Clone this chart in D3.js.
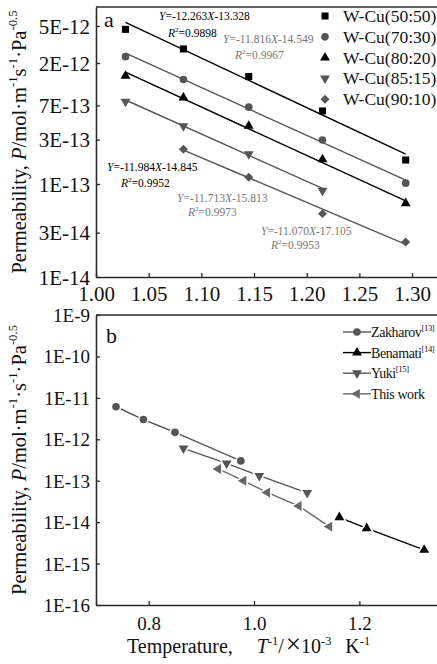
<!DOCTYPE html>
<html><head><meta charset="utf-8">
<script src="https://cdn.jsdelivr.net/npm/d3@7"></script>
<style>
html,body{margin:0;padding:0;background:#fff;}
svg{display:block;font-family:"Liberation Serif","Times New Roman",serif;}
</style></head>
<body><svg id="c" width="437" height="664"></svg>
<script>
// ---------- Panel a data ----------
const aSeries = ["W-Cu(50:50)","W-Cu(70:30)","W-Cu(80:20)","W-Cu(85:15)","W-Cu(90:10)"];
const aX5050 = [1.028, 1.083, 1.145, 1.215, 1.294];
const aP5050 = [4.6e-12, 2.83e-12, 1.43e-12, 6.1e-13, 1.81e-13];
const aX7030 = [1.028, 1.083, 1.145, 1.215, 1.294];
const aP7030 = [2.34e-12, 1.33e-12, 6.7e-13, 2.97e-13, 1.02e-13];
const aX8020 = [1.028, 1.083, 1.145, 1.215, 1.294];
const aP8020 = [1.45e-12, 8.5e-13, 4.2e-13, 1.84e-13, 6.2e-14];
const aX8515 = [1.028, 1.083, 1.145, 1.215];
const aP8515 = [7.7e-13, 4.2e-13, 2.1e-13, 8.5e-14];
const aX9010 = [1.083, 1.145, 1.215, 1.294];
const aP9010 = [2.36e-13, 1.18e-13, 4.8e-14, 2.38e-14];
const fitSlope = [-12.263, -11.816, -11.984, -11.713, -11.070];
const fitIntercept = [-13.328, -14.549, -14.845, -15.813, -17.105];
const fitR2 = ["0.9898", "0.9967", "0.9952", "0.9973", "0.9953"];
const aXTicks = [1.00, 1.05, 1.10, 1.15, 1.20, 1.25, 1.30];
const aYTicks = [5e-12, 2e-12, 7e-13, 3e-13, 1e-13, 3e-14, 1e-14];
const aYTickLabels = ["5E-12","2E-12","7E-13","3E-13","1E-13","3E-14","1E-14"];

// ---------- Panel b data ----------
const bSeries = ["Zakharov","Benamati","Yuki","This work"];
const bRefs = ["[13]","[14]","[15]",""];
const zakX = [0.738, 0.790, 0.850, 0.975];
const zakP = [6.1e-12, 3.0e-12, 1.47e-12, 3.0e-13];
const benX = [1.162, 1.214, 1.323];
const benP = [1.31e-14, 7.1e-15, 2.13e-15];
const yukiX = [0.866, 0.948, 1.010, 1.101];
const yukiP = [6.05e-13, 2.63e-13, 1.32e-13, 5.1e-14];
const thisX = [0.932, 0.980, 1.025, 1.085, 1.143];
const thisP = [1.92e-13, 1.0e-13, 5.2e-14, 2.45e-14, 7.8e-15];
const bXTicks = [0.8, 1.0, 1.2];
const bYTicks = [1e-9,1e-10,1e-11,1e-12,1e-13,1e-14,1e-15,1e-16];
const bYTickLabels = ["1E-9","1E-10","1E-11","1E-12","1E-13","1E-14","1E-15","1E-16"];

const svg = d3.select("#c");
const AX = "#2a2a2a";
const BLACK = "#000", GRAY = "#555", LGRAY = "#666";

function richText(g, x, y, parts, opts) {
  const t = g.append("text").attr("x", x).attr("y", y)
    .attr("font-size", opts.size).attr("fill", opts.fill || "#000")
    .attr("text-anchor", opts.anchor || "start");
  if (opts.rotate) t.attr("transform", `rotate(${opts.rotate},${x},${y})`);
  if (opts.spacing) t.attr("letter-spacing", opts.spacing);
  let shift = 0;
  parts.forEach(p => {
    const ts = t.append("tspan").text(p.t);
    const target = p.sup ? -opts.size * 0.42 : 0;
    if (target !== shift) { ts.attr("dy", target - shift); shift = target; }
    if (p.sup) ts.attr("font-size", opts.size * 0.62);
    if (p.size) ts.attr("font-size", p.size);
    if (p.dx) ts.attr("dx", p.dx);
    if (p.it) ts.attr("font-style", "italic");
  });
  return t;
}

function symPath(type, size) { return d3.symbol().type(type).size(size)(); }
const shapes = {
  square: {type: d3.symbolSquare, rot: 0, size: 50},
  circle: {type: d3.symbolCircle, rot: 0, size: 46},
  up: {type: d3.symbolTriangle, rot: 0, size: 42},
  down: {type: d3.symbolTriangle, rot: 180, size: 42},
  left: {type: d3.symbolTriangle, rot: -90, size: 42},
  diamond: {type: d3.symbolSquare, rot: 45, size: 40}
};
function marker(g, cx, cy, shape, color, gap) {
  const s = shapes[shape];
  const p = g.append("path").attr("d", symPath(s.type, s.size))
    .attr("transform", `translate(${cx},${cy}) rotate(${s.rot})`)
    .attr("fill", color);
  if (gap) p.attr("stroke", "#fff").attr("stroke-width", 3).style("paint-order", "stroke");
  return p;
}

function drawAxes(g, x, y, xTicks, xFmt, yTicks, yLabels, tickSize, xLabY) {
  const [x0, x1] = x.range();
  const [y0, y1] = y.range();
  const xa = d3.axisBottom(x).tickValues(xTicks).tickFormat(xFmt).tickSizeInner(-4).tickSizeOuter(0).tickPadding(8);
  const gx = g.append("g").attr("transform", `translate(0,${y0})`).call(xa);
  gx.select(".domain").attr("stroke", AX).attr("stroke-width", 1.6);
  gx.selectAll(".tick line").attr("stroke", AX).attr("stroke-width", 1.3);
  gx.selectAll(".tick text").attr("font-family", "Liberation Serif").attr("font-size", tickSize)
    .attr("fill", "#111").attr("y", null).attr("dy", null).attr("dominant-baseline", null)
    .attr("transform", null).attr("y", xLabY - y0);
  const ya = d3.axisLeft(y).tickValues(yTicks).tickFormat((d, i) => yLabels[i]).tickSizeInner(-4).tickSizeOuter(0).tickPadding(6);
  const gy = g.append("g").attr("transform", `translate(${x0},0)`).call(ya);
  gy.select(".domain").attr("stroke", AX).attr("stroke-width", 1.6);
  gy.selectAll(".tick line").attr("stroke", AX).attr("stroke-width", 1.3);
  gy.selectAll(".tick text").attr("font-family", "Liberation Serif").attr("font-size", tickSize)
    .attr("fill", "#111").attr("dy", "0.34em");
  g.append("line").attr("x1", x0).attr("x2", x1).attr("y1", y1).attr("y2", y1)
    .attr("stroke", AX).attr("stroke-width", 1.6);
}

// ================= Panel a =================
const gA = svg.append("g");
const xA = d3.scaleLinear().domain([1.0, 1.3237]).range([96, 437]);
const yA = d3.scaleLog().domain([1e-14, 8e-12]).range([277, 7]);
drawAxes(gA, xA, yA, aXTicks, d3.format(".2f"), aYTicks, aYTickLabels, 21, 301);

const aData = [
  {name: aSeries[0], xs: aX5050, ps: aP5050, shape: "square", color: BLACK, eqColor: BLACK},
  {name: aSeries[1], xs: aX7030, ps: aP7030, shape: "circle", color: GRAY, eqColor: "#777"},
  {name: aSeries[2], xs: aX8020, ps: aP8020, shape: "up", color: BLACK, eqColor: BLACK},
  {name: aSeries[3], xs: aX8515, ps: aP8515, shape: "down", color: GRAY, eqColor: "#777"},
  {name: aSeries[4], xs: aX9010, ps: aP9010, shape: "diamond", color: GRAY, eqColor: "#777"}
];
aData.forEach((s, i) => {
  const xs = [s.xs[0], s.xs[s.xs.length - 1]];
  const fit = xs.map(v => [v, Math.exp(fitSlope[i] * v + fitIntercept[i])]);
  gA.append("path").attr("d", d3.line().x(d => xA(d[0])).y(d => yA(d[1]))(fit))
    .attr("fill", "none").attr("stroke", s.color).attr("stroke-width", 1.4);
  s.xs.forEach((v, j) => marker(gA, xA(v), yA(s.ps[j]), s.shape, s.color, false));
});
// equations
const eqPos = [[159, 20, 168, 37], [223, 43, 235, 59], [107, 171, 121, 187], [177, 202, 188, 216], [261, 235, 271, 249]];
aData.forEach((s, i) => {
  const [ex, ey, rx, ry] = eqPos[i];
  const ic = fitIntercept[i] < 0 ? "" : "+";
  richText(gA, ex, ey, [
    {t: "Y", it: true}, {t: "=" + fitSlope[i].toFixed(3)}, {t: "X", it: true}, {t: ic + fitIntercept[i].toFixed(3)}
  ], {size: 11.5, fill: s.eqColor});
  richText(gA, rx, ry, [
    {t: "R", it: true}, {t: "2", sup: true}, {t: "=" + fitR2[i]}
  ], {size: 11.5, fill: s.eqColor});
});
// legend a
aData.forEach((s, i) => {
  const cy = 16 + i * 20.8;
  marker(gA, 325, cy, s.shape, s.color, false);
  gA.append("text").attr("x", 343).attr("y", cy + 6).attr("font-size", 17.5).attr("fill", "#111").text(s.name);
});
gA.append("text").attr("x", 104).attr("y", 27).attr("font-size", 22).attr("fill", "#111").text("a");
richText(gA, 26, 142, [
  {t: "Permeability, "}, {t: "P", it: true}, {t: "/mol·m"}, {t: "-1", sup: true}, {t: "s"}, {t: "-1", sup: true},
  {t: "·Pa"}, {t: "-0.5", sup: true}
], {size: 20.5, anchor: "middle", rotate: -90, fill: "#111"});

// ================= Panel b =================
const gB = svg.append("g");
const xB = d3.scaleLinear().domain([0.7, 1.3474]).range([96, 437]);
const yB = d3.scaleLog().domain([1e-16, 1e-9]).range([605, 315]);
drawAxes(gB, xB, yB, bXTicks, d3.format(".1f"), bYTicks, bYTickLabels, 19, 630);

const bData = [
  {xs: zakX, ps: zakP, shape: "circle", color: GRAY},
  {xs: benX, ps: benP, shape: "up", color: BLACK},
  {xs: yukiX, ps: yukiP, shape: "down", color: GRAY},
  {xs: thisX, ps: thisP, shape: "left", color: LGRAY}
];
bData.forEach(s => {
  const pts = s.xs.map((v, j) => [v, s.ps[j]]);
  gB.append("path").attr("d", d3.line().x(d => xB(d[0])).y(d => yB(d[1]))(pts))
    .attr("fill", "none").attr("stroke", s.color).attr("stroke-width", 1.4);
});
bData.forEach(s => {
  s.xs.forEach((v, j) => marker(gB, xB(v), yB(s.ps[j]), s.shape, s.color, true));
});
// legend b
bData.forEach((s, i) => {
  const cy = 332 + i * 20.6;
  gB.append("line").attr("x1", 343).attr("x2", 371).attr("y1", cy).attr("y2", cy)
    .attr("stroke", s.color).attr("stroke-width", 1.4);
  marker(gB, 357, cy, s.shape, s.color, false);
  const parts = [{t: bSeries[i]}];
  if (bRefs[i]) parts.push({t: bRefs[i], sup: true});
  richText(gB, 371, cy + 5, parts, {size: 14, fill: "#111", spacing: -0.4});
});
gB.append("text").attr("x", 106).attr("y", 343).attr("font-size", 22).attr("fill", "#111").text("b");
richText(gB, 26, 460, [
  {t: "Permeability, "}, {t: "P", it: true}, {t: "/mol·m"}, {t: "-1", sup: true}, {t: "·s"}, {t: "-1", sup: true},
  {t: "·Pa"}, {t: "-0.5", sup: true}
], {size: 20.5, anchor: "middle", rotate: -90, fill: "#111"});
richText(gB, 127, 653, [
  {t: "Temperature,"}, {t: "T", it: true, dx: 24}, {t: "-1", sup: true}, {t: "/"}, {t: "×", size: 27, dx: 2},
  {t: "10"}, {t: "-3", sup: true}, {t: "K", dx: 14}, {t: "-1", sup: true}
], {size: 20, anchor: "start", fill: "#111"});
</script></body></html>
